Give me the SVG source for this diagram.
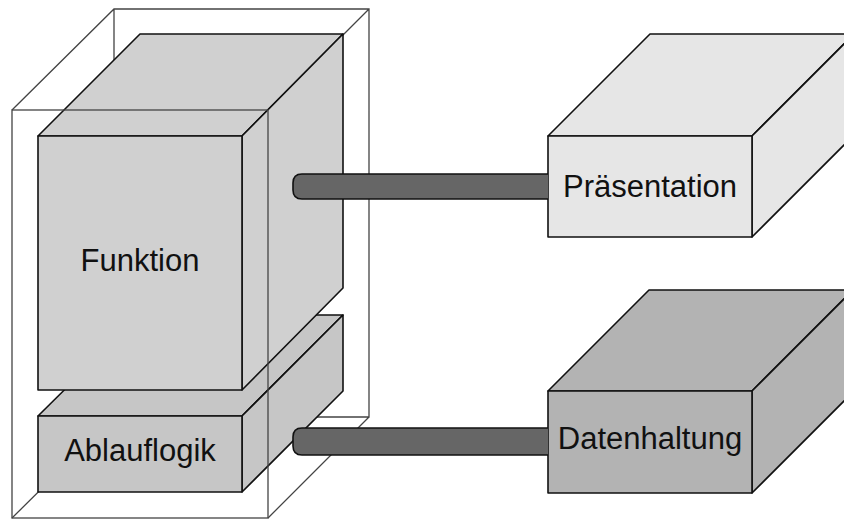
<svg xmlns="http://www.w3.org/2000/svg" width="844" height="520" viewBox="0 0 844 520">
<style>
.wire{fill:none;stroke:#444;stroke-width:1.3}
.box{stroke:#111;stroke-width:1.6;stroke-linejoin:round}
.lbl{font-family:"Liberation Sans",Arial,sans-serif;font-size:31px;fill:#111;text-anchor:middle}
.rod{fill:#666;stroke:#111;stroke-width:1.6}
</style>
<rect width="844" height="520" fill="#fff"/>
<g id="container-back">
<path class="wire" d="M12,110 L114,9 L369,9 L369,417 L114,417 L12,518 M114,9 L114,417 M268,110 L369,9 M268,518 L369,417"/>
</g>
<g id="ablauflogik">
<path class="box" fill="#c6c6c6" d="M38,416 L140,315 L343,315 L242,416 Z"/>
<path class="box" fill="#c6c6c6" d="M242,416 L343,315 L343,391 L242,492 Z"/>
<rect class="box" fill="#c6c6c6" x="38" y="416" width="204" height="76"/>
<text class="lbl" x="140" y="461">Ablauflogik</text>
</g>
<g id="funktion">
<path class="box" fill="#d0d0d0" d="M38,136 L140,34 L343,34 L242,136 Z"/>
<path class="box" fill="#d0d0d0" d="M242,136 L343,34 L343,288 L242,390 Z"/>
<rect class="box" fill="#d0d0d0" x="38" y="136" width="204" height="254"/>
<text class="lbl" x="140" y="271">Funktion</text>
</g>
<g id="container-front">
<rect class="wire" x="12" y="110" width="256" height="408"/>
</g>
<g id="praesentation">
<path class="box" fill="#e6e6e6" d="M548,136 L650,34 L854,34 L752,136 Z"/>
<path class="box" fill="#e6e6e6" d="M752,136 L854,34 L854,135 L752,237 Z"/>
<rect class="box" fill="#e6e6e6" x="548" y="136" width="204" height="101"/>
<text class="lbl" x="650" y="197">Präsentation</text>
</g>
<g id="datenhaltung">
<path class="box" fill="#b3b3b3" d="M548,391 L649,290 L853,290 L752,391 Z"/>
<path class="box" fill="#b3b3b3" d="M752,391 L853,290 L853,392 L752,493 Z"/>
<rect class="box" fill="#b3b3b3" x="548" y="391" width="204" height="102"/>
<text class="lbl" x="650" y="449">Datenhaltung</text>
</g>
<g id="connectors">
<path class="rod" d="M548,174 L302,174 Q293,174 293,183 L293,190 Q293,199 302,199 L548,199"/>
<path class="rod" d="M548,428 L302,428 Q293,428 293,437 L293,446 Q293,455 302,455 L548,455"/>
</g>
</svg>
